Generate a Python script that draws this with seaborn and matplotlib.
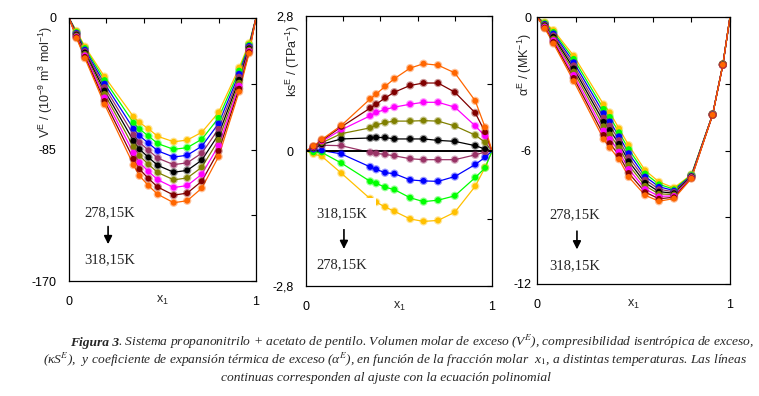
import matplotlib
matplotlib.use('Agg')
import matplotlib.pyplot as plt
import pandas as pd
import seaborn as sns

# temperatures (K) and the colour used for each one
temps = ['278,15', '283,15', '288,15', '293,15', '298,15', '303,15', '308,15', '313,15', '318,15']
colors = ['#FFC000', '#00FF00', '#0000FF', '#993366', '#000000', '#808000', '#FF00FF', '#800000', '#FF6600']

# measured mole fractions (same for every temperature)
x1 = [0.04, 0.085, 0.19, 0.345, 0.377, 0.425, 0.475, 0.56, 0.632, 0.71, 0.80, 0.91, 0.963]

# V^E / (10^-9 m3 mol-1), one row per temperature (278.15 -> 318.15)
ve = [
    [-8.4, -18.5, -37.9, -63.8, -67.5, -71.7, -76.5, -80.0, -78.9, -73.9, -61.0, -32.1, -16.4],
    [-9.0, -19.4, -40.1, -67.7, -71.8, -76.3, -81.2, -84.9, -83.8, -78.4, -64.6, -34.0, -17.2],
    [-9.6, -20.4, -42.4, -71.6, -76.1, -80.9, -85.9, -89.9, -88.7, -82.9, -68.2, -36.0, -18.0],
    [-10.1, -21.3, -44.6, -75.5, -80.4, -85.5, -90.6, -94.8, -93.6, -87.4, -71.7, -37.9, -18.8],
    [-10.7, -22.3, -46.9, -79.4, -84.8, -90.1, -95.3, -99.7, -98.5, -91.9, -75.3, -39.9, -19.6],
    [-11.3, -23.2, -49.1, -83.3, -89.1, -94.6, -99.9, -104.6, -103.4, -96.5, -78.9, -41.8, -20.4],
    [-11.9, -24.1, -51.3, -87.2, -93.4, -99.2, -104.6, -109.6, -108.3, -101.0, -82.5, -43.7, -21.2],
    [-12.4, -25.1, -53.6, -91.1, -97.7, -103.8, -109.3, -114.5, -113.2, -105.5, -86.0, -45.7, -22.0],
    [-13.0, -26.0, -55.8, -95.0, -102.0, -108.4, -114.0, -119.4, -118.1, -110.0, -89.6, -47.6, -22.8],
]

# ks^E / TPa-1
ks = [
    [-0.06, -0.11, -0.46, -0.99, -1.06, -1.16, -1.25, -1.41, -1.46, -1.44, -1.27, -0.73, -0.34],
    [-0.03, -0.03, -0.25, -0.63, -0.67, -0.75, -0.80, -0.97, -1.05, -1.02, -0.93, -0.55, -0.35],
    [0.03, 0.01, -0.06, -0.33, -0.38, -0.45, -0.47, -0.60, -0.62, -0.63, -0.53, -0.28, -0.13],
    [0.05, 0.12, 0.11, -0.03, -0.05, -0.07, -0.10, -0.16, -0.18, -0.18, -0.18, -0.08, -0.02],
    [0.06, 0.14, 0.25, 0.27, 0.28, 0.28, 0.25, 0.25, 0.25, 0.22, 0.20, 0.11, 0.04],
    [0.07, 0.17, 0.36, 0.48, 0.54, 0.59, 0.62, 0.62, 0.63, 0.62, 0.52, 0.33, 0.18],
    [0.08, 0.20, 0.44, 0.73, 0.80, 0.86, 0.91, 0.97, 1.01, 1.01, 0.91, 0.52, 0.31],
    [0.09, 0.22, 0.50, 0.89, 0.97, 1.10, 1.22, 1.36, 1.41, 1.41, 1.22, 0.79, 0.39],
    [0.10, 0.24, 0.53, 1.08, 1.18, 1.34, 1.50, 1.72, 1.81, 1.78, 1.62, 1.04, 0.49],
]

# alpha^E / MK-1
alpha = [
    [-0.24, -0.59, -1.74, -3.93, -4.29, -5.01, -5.76, -6.89, -7.41, -7.68, -7.08, -4.37, -2.13],
    [-0.27, -0.67, -1.88, -4.13, -4.49, -5.18, -5.94, -7.03, -7.52, -7.74, -7.10, -4.37, -2.13],
    [-0.31, -0.74, -2.03, -4.32, -4.69, -5.36, -6.12, -7.17, -7.63, -7.80, -7.13, -4.38, -2.14],
    [-0.34, -0.82, -2.17, -4.52, -4.88, -5.53, -6.30, -7.31, -7.74, -7.86, -7.15, -4.38, -2.14],
    [-0.38, -0.89, -2.31, -4.71, -5.08, -5.70, -6.48, -7.45, -7.85, -7.92, -7.17, -4.39, -2.14],
    [-0.41, -0.97, -2.45, -4.91, -5.28, -5.87, -6.65, -7.59, -7.95, -7.98, -7.19, -4.39, -2.14],
    [-0.44, -1.04, -2.60, -5.10, -5.48, -6.05, -6.83, -7.73, -8.06, -8.04, -7.21, -4.39, -2.15],
    [-0.48, -1.12, -2.74, -5.30, -5.67, -6.22, -7.01, -7.87, -8.17, -8.10, -7.24, -4.40, -2.15],
    [-0.51, -1.19, -2.88, -5.49, -5.87, -6.39, -7.19, -8.01, -8.28, -8.16, -7.26, -4.40, -2.15],
]


def long_form(rows, with_ends):
    recs = []
    for t, row in zip(temps, rows):
        if with_ends:
            recs.append((t, 0.0, 0.0))
        for x, v in zip(x1, row):
            recs.append((t, x, v))
        if with_ends:
            recs.append((t, 1.0, 0.0))
    return pd.DataFrame(recs, columns=['T', 'x1', 'y'])


sns.set_theme(style='white')
plt.rcParams['font.family'] = ['Liberation Sans', 'DejaVu Sans']
plt.rcParams['axes.unicode_minus'] = False
plt.rcParams['mathtext.fontset'] = 'custom'
plt.rcParams['mathtext.rm'] = 'Liberation Sans'
plt.rcParams['mathtext.it'] = 'Liberation Sans'

palette = dict(zip(temps, colors))
W, H = 759, 396
fig = plt.figure(figsize=(W / 100, H / 100), dpi=100)
fig.patch.set_facecolor('white')

panels = [
    # rows, rect (px: left, top, right, bottom), ylim, yticks, ylabels, ylabel, label x/top, ypad
    (ve, (69, 18, 256, 281), (-170, 0), [-170, -127.5, -85, -42.5, 0], ['-170', '', '-85', '', '0'],
     'V$^E$ / (10$^{-9}$ m$^3$ mol$^{-1}$)', -0.122, 0.972, 9),
    (ks, (306, 16, 492, 286), (-2.8, 2.8), [-2.8, -1.4, 0, 1.4, 2.8], ['-2,8', '', '0', '', '2,8'],
     'ks$^E$ / (TPa$^{-1}$)', -0.07, 0.968, 9),
    (alpha, (537, 17, 730, 284), (-12, 0), [-12, -9, -6, -3, 0], ['-12', '', '-6', '', '0'],
     'α$^E$ / (MK$^{-1}$)', -0.062, 0.94, 4),
]

axes = []
for rows, (l, t, r, b), ylim, yticks, ylabels, ylab, lx, ly, ypad in panels:
    ax = fig.add_axes([l / W, 1 - b / H, (r - l) / W, (b - t) / H])
    lines = long_form(rows, True)
    pts = long_form(rows, False)
    sns.lineplot(data=lines, x='x1', y='y', hue='T', hue_order=temps, palette=palette,
                 estimator=None, linewidth=0.9, legend=False, ax=ax)
    # soft halo + solid dot, like the original markers
    sns.scatterplot(data=pts, x='x1', y='y', hue='T', hue_order=temps, palette=palette,
                    s=36, linewidth=0, alpha=0.4, legend=False, ax=ax, zorder=3)
    sns.scatterplot(data=pts, x='x1', y='y', hue='T', hue_order=temps, palette=palette,
                    s=18, linewidth=0, legend=False, ax=ax, zorder=3)
    ax.set_xlim(0, 1)
    ax.set_ylim(*ylim)
    ax.set_xticks([0, 0.2, 0.4, 0.6, 0.8, 1])
    ax.set_xticklabels(['0', '', '', '', '', '1'])
    ax.set_yticks(yticks)
    ax.set_yticklabels(ylabels)
    ax.set_xlabel('')
    ax.set_ylabel('')
    ax.tick_params(direction='in', top=True, right=True, length=3.5, width=0.8,
                   labelsize=9, colors='black')
    ax.tick_params(axis='y', pad=ypad)
    ax.tick_params(axis='x', pad=11)
    for sp in ax.spines.values():
        sp.set_color('black')
        sp.set_linewidth(0.9)
    ax.text(lx, ly, ylab, rotation=90, ha='center', va='top', fontsize=9, transform=ax.transAxes)
    ax.text(0.5, -0.075, 'x$_1$', ha='center', va='center', fontsize=9, transform=ax.transAxes)
    axes.append(ax)

ax1, ax2, ax3 = axes
ax2.axhline(0, color='black', lw=1.4, zorder=2)

serif = dict(family=['Liberation Serif', 'DejaVu Serif'], fontsize=10.5, ha='center', va='center')
arrow = dict(arrowstyle='-|>', color='black', lw=1.2, mutation_scale=12)

ax1.text(0.219, -126, '278,15K', **serif)
ax1.annotate('', xy=(0.209, -148), xytext=(0.209, -133), arrowprops=arrow)
ax1.text(0.219, -156.5, '318,15K', **serif)

ax2.text(0.194, -1.30, '318,15K', zorder=4,
         bbox=dict(facecolor='white', edgecolor='none', boxstyle='square,pad=0.6'), **serif)
ax2.annotate('', xy=(0.204, -2.09), xytext=(0.204, -1.57), arrowprops=arrow)
ax2.text(0.194, -2.36, '278,15K', **serif)

ax3.text(0.195, -8.9, '278,15K', **serif)
ax3.annotate('', xy=(0.207, -10.57), xytext=(0.207, -9.5), arrowprops=arrow)
ax3.text(0.195, -11.16, '318,15K', **serif)

# caption
renderer = fig.canvas.get_renderer()
cap = dict(family=['Liberation Serif', 'DejaVu Serif'], style='italic', fontsize=9.7,
           va='baseline', ha='left', math_fontfamily='stix')


def caption_line(parts, cx, ybase):
    texts = [fig.text(0, 1 - ybase / H, s, weight=w, **cap) for s, w in parts]
    # measured widths include a little italic overhang, trim it
    widths = [t.get_window_extent(renderer).width - 2 for t in texts]
    x = cx - sum(widths) / 2
    for t, w in zip(texts, widths):
        t.set_x(x / W)
        x += w


caption_line([('Figura 3', 'bold'),
              ('. Sistema propanonitrilo + acetato de pentilo. Volumen molar de exceso (V$^E$), '
               'compresibilidad isentrópica de exceso,', 'normal')], 411, 346)
caption_line([('(κS$^E$),  y coeficiente de expansión térmica de exceso (α$^E$), en función de la '
               'fracción molar  x$_1$, a distintas temperaturas. Las líneas', 'normal')], 394, 364)
caption_line([('continuas corresponden al ajuste con la ecuación polinomial', 'normal')], 385, 381)

fig.savefig('out.png', dpi=100, facecolor='white')
